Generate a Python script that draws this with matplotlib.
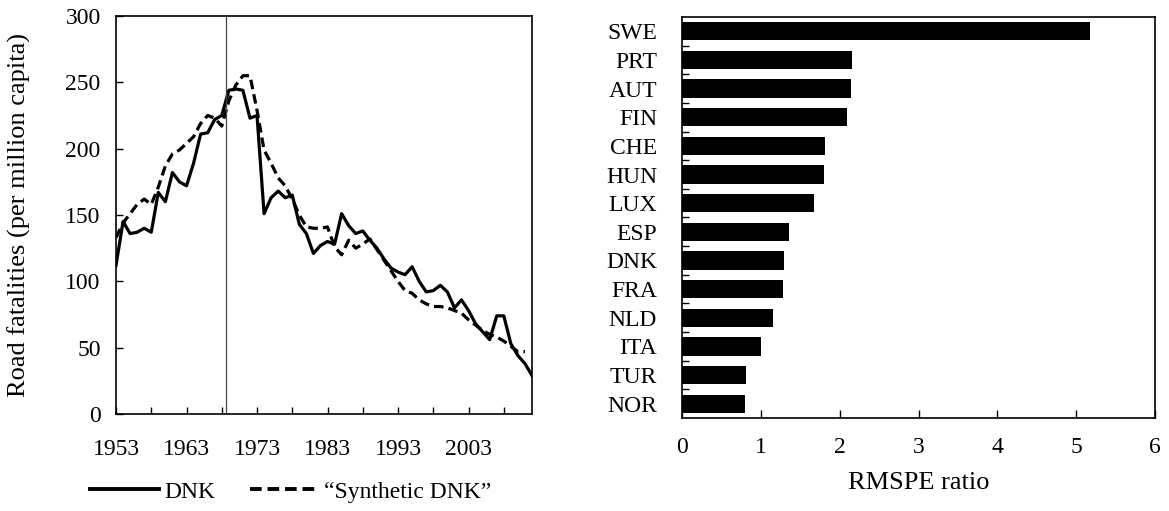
import numpy as np
import matplotlib.pyplot as plt
from matplotlib.lines import Line2D

plt.rcParams["font.family"] = ["Liberation Serif", "DejaVu Serif"]
plt.rcParams["font.size"] = 17

years = np.arange(1953, 2013)

# road fatalities per million capita, Denmark
dnk = [112, 145, 136, 137, 140, 137, 167, 160, 182, 175,
       172, 189, 211, 212, 222, 225, 244, 245, 244, 223,
       225, 151, 163, 168, 163, 165, 143, 136, 121, 127,
       130, 128, 151, 142, 136, 138, 131, 125, 117, 110,
       107, 105, 111, 100, 92, 93, 97, 92, 80, 86,
       78, 68, 62, 56, 74, 74, 53, 44, 38, 29]

# synthetic control (no value for the last year)
synth = [133, 144, 151, 158, 162, 158, 171, 187, 196, 199,
         204, 209, 219, 225, 223, 217, 236, 248, 255, 255,
         229, 199, 189, 178, 172, 162, 150, 141, 140, 140,
         141, 126, 120, 131, 125, 128, 132, 124, 116, 108,
         100, 93, 91, 86, 83, 81, 81, 80, 78, 76,
         71, 67, 63, 60, 58, 55, 51, 47, 47, np.nan]

treat_year = 1968.6

countries = ["SWE", "PRT", "AUT", "FIN", "CHE", "HUN", "LUX",
             "ESP", "DNK", "FRA", "NLD", "ITA", "TUR", "NOR"]
rmspe = [5.18, 2.16, 2.15, 2.09, 1.81, 1.80, 1.67,
         1.36, 1.29, 1.28, 1.15, 1.00, 0.81, 0.80]

fig = plt.figure(figsize=(11.69, 5.11), dpi=100)

# left panel: DNK vs synthetic DNK
ax1 = fig.add_axes([116 / 1169, 1 - 414 / 511, 416 / 1169, 398 / 511])
ax1.plot(years, dnk, color="black", lw=2.3, label="DNK")
ax1.plot(years, synth, color="black", lw=2.3, ls=(0, (3, 1.6)),
         label="\u201cSynthetic DNK\u201d")
ax1.axvline(treat_year, color="#444444", lw=0.9)
ax1.set_xlim(1953, 2012)
ax1.set_ylim(0, 300)
ax1.set_yticks(np.arange(0, 301, 50))
ax1.set_xticks(np.arange(1953, 2012, 10))
ax1.set_xticks(np.arange(1958, 2012, 10), minor=True)
ax1.tick_params(axis="both", which="both", direction="in", length=5,
                width=1)
ax1.tick_params(axis="y", pad=11)
ax1.tick_params(axis="x", pad=18)
ax1.set_ylabel("Road fatalities (per million capita)", fontsize=19)
ax1.yaxis.set_label_coords(-0.205, 0.5)
for s in ax1.spines.values():
    s.set_linewidth(1.2)

handles = [Line2D([], [], color="black", lw=2.8),
           Line2D([], [], color="black", lw=2.8, ls=(0, (3, 1.5)))]
fig.legend(handles, ["DNK", "\u201cSynthetic DNK\u201d"], loc="center",
           bbox_to_anchor=(291 / 1169, 1 - 492 / 511), ncol=2, frameon=False,
           handlelength=2.9, handletextpad=0.25, columnspacing=1.45)

# right panel: RMSPE ratios
ax2 = fig.add_axes([682 / 1169, 1 - 418 / 511, 473 / 1169, 401 / 511])
pos = np.arange(len(countries))
ax2.barh(pos, rmspe, height=0.64, color="black")
ax2.set_ylim(len(countries) - 0.5, -0.5)
ax2.set_xlim(0, 6)
ax2.set_xticks(np.arange(0, 7, 1))
ax2.set_yticks(pos)
ax2.set_yticklabels(countries)
ax2.set_yticks(np.arange(0.5, len(countries) - 0.5, 1), minor=True)
ax2.tick_params(axis="y", which="major", length=0, pad=18)
ax2.tick_params(axis="y", which="minor", direction="in", length=5, width=1)
ax2.tick_params(axis="x", direction="in", length=6, width=1, pad=14)
ax2.set_xlabel("RMSPE ratio", fontsize=19)
ax2.xaxis.set_label_coords(0.5, -0.135)
for s in ax2.spines.values():
    s.set_linewidth(1.2)

fig.savefig("out.png", dpi=100)
